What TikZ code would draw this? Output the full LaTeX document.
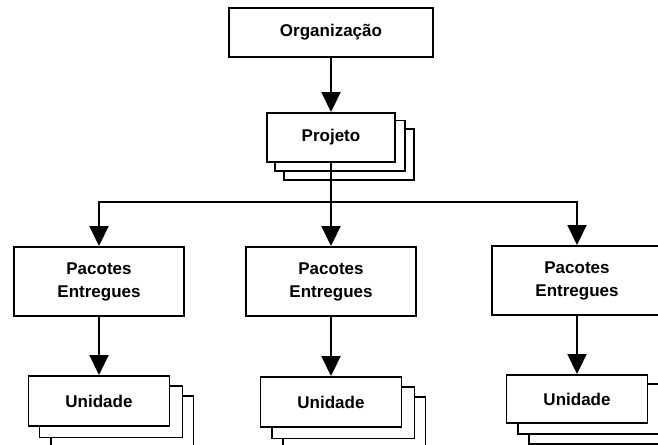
\documentclass[tikz,border=0pt]{standalone}
\usepackage{fontspec}
\setmainfont{Liberation Sans}
\usetikzlibrary{arrows.meta}
\pgfdeclarelayer{bg}
\pgfsetlayers{bg,main}
\tikzset{
  box/.style={draw=black, line width=1.9bp, fill=white, inner sep=0pt,
    font=\fontsize{17bp}{23bp}\selectfont\bfseries, align=center},
  orgbox/.style={box, minimum width=204bp, minimum height=49bp},
  projbox/.style={box, minimum width=128bp, minimum height=49bp},
  pacbox/.style={box, minimum width=170bp, minimum height=69bp},
  unibox/.style={box, minimum width=141bp, minimum height=50bp},
  shadowbox/.style={draw=black, line width=1.9bp, fill=white},
  conn/.style={draw=black, line width=1.9bp, -{Triangle[length=20bp,width=19bp]}}
}
\begin{document}
\begin{tikzpicture}[x=1bp,y=-1bp]
\useasboundingbox (0,0) rectangle (658,445);
\clip (0,0) rectangle (658,445);
\node[orgbox] (org) at (331,32.5) {Organização};
\node[projbox] (proj) at (331,137.5) {Projeto};
\node[pacbox] (pl) at (99,281.5) {Pacotes\\Entregues};
\node[pacbox] (pm) at (331,281.5) {Pacotes\\Entregues};
\node[pacbox] (pr) at (577,280.5) {Pacotes\\Entregues};
\node[unibox] (ul) at (99,401) {Unidade};
\node[unibox] (um) at (331,402) {Unidade};
\node[unibox, minimum height=48bp] (ur) at (577,399) {Unidade};
\begin{pgfonlayer}{bg}
  \foreach \n/\dx/\dy in {proj/18/17, proj/9/8.5,
                          ul/23/21, ul/12/10.5,
                          um/23/21, um/12/10.5,
                          ur/23/20, ur/12/10}{
    \draw[shadowbox] ([shift={(\dx,\dy)}]\n.south west) rectangle ([shift={(\dx,\dy)}]\n.north east);
  }
\end{pgfonlayer}
\coordinate (bus) at (331,202);
\draw[conn] (org) -- (proj);
\draw[conn] (proj) -- (pm);
\draw[conn] (bus) -| (pl.north);
\draw[conn] (bus) -| (pr.north);
\draw[conn] (pl) -- (ul);
\draw[conn] (pm) -- (um);
\draw[conn] (pr) -- (ur);
\end{tikzpicture}
\end{document}
